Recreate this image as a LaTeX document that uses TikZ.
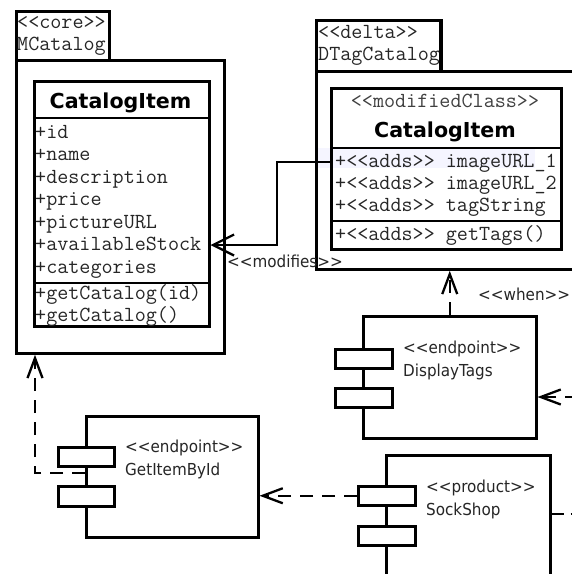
\documentclass[tikz,border=0pt]{standalone}
\usepackage{fontspec}
\setmainfont{DejaVu Sans}
\newfontfamily\sansf[FakeStretch=0.92]{DejaVu Sans}
\newfontfamily\titlef{DejaVu Sans}
\usetikzlibrary{arrows.meta}

\tikzset{
  pkgbox/.style={draw, line width=2.8pt, inner sep=0pt, anchor=north west, fill=white},
  clsbox/.style={draw, line width=2.5pt, inner sep=0pt, anchor=north west},
  compbox/.style={draw, line width=2.5pt, inner sep=0pt, anchor=north west, fill=white},
  portbox/.style={draw, line width=2.5pt, inner sep=0pt, anchor=north west, fill=white},
  divider/.style={line width=2.5pt},
  mono/.style={font=\ttfamily\fontsize{21.5}{22}\selectfont, inner sep=0pt, anchor=base west, text=black!85},
  title/.style={font=\titlef\bfseries\fontsize{20.6}{24}\selectfont, inner sep=0pt, anchor=base},
  lbl/.style={font=\sansf\fontsize{16.5}{19}\selectfont, inner sep=0pt, anchor=base west, text=black!85},
  conn/.style={line width=2.3pt},
  dconn/.style={line width=2.3pt, dash pattern=on 13pt off 9pt},
  opentip/.style={-{Straight Barb[length=20pt,width=15pt]}},
  bigtip/.style={-{Straight Barb[length=21pt,width=21pt]}},
}

\begin{document}
\begin{tikzpicture}[x=1pt,y=-1pt]
\useasboundingbox (0,0) rectangle (572,574);
\clip (0,0) rectangle (572,574);
\fill[white] (0,0) rectangle (572,574);

% ---------- package MCatalog ----------
\node[pkgbox, minimum width=93pt, minimum height=49pt] (mtab) at (15,10) {};
\node[pkgbox, minimum width=208pt, minimum height=293pt] (mpkg) at (15,59) {};
\node[mono] (mster) at (17,28) {<<core>>};
\node[mono] (mname) at (17,50) {MCatalog};

% class CatalogItem (core)
\node[clsbox, minimum width=175pt, minimum height=245pt] (mcls) at (33,80) {};
\draw[divider] (mcls.west |- 0,118) -- (mcls.east |- 0,118);
\draw[divider] (mcls.west |- 0,283) -- (mcls.east |- 0,283);
\node[title] (mtitle) at (120.5,108) {CatalogItem};
\node[mono] (ma1) at (35,138)   {+id};
\node[mono] (ma2) at (35,160.5) {+name};
\node[mono] (ma3) at (35,183)   {+description};
\node[mono] (ma4) at (35,205.5) {+price};
\node[mono] (ma5) at (35,228)   {+pictureURL};
\node[mono] (ma6) at (35,250.5) {+availableStock};
\node[mono] (ma7) at (35,273)   {+categories};
\node[mono] (mm1) at (35,299)   {+getCatalog(id)};
\node[mono] (mm2) at (35,321.5) {+getCatalog()};

% ---------- package DTagCatalog ----------
\node[pkgbox, minimum width=124pt, minimum height=51pt] (dtab) at (315,19) {};
\node[pkgbox, minimum width=305pt, minimum height=198pt] (dpkg) at (315,70) {};
\begin{scope}
  \clip (315,19) rectangle (438,70);
  \node[mono] (dster) at (318,38) {<<delta>>};
  \node[mono] (dname) at (318,60) {DTagCatalog};
\end{scope}
\draw[line width=2.8pt] (dtab.north east) -- (dtab.south east);

% class CatalogItem (modified)
\fill[blue!4] (318,148) rectangle (535,168);
\node[title, font=\ttfamily\fontsize{21.5}{22}\selectfont, text=black!75] (dster2) at (445,107) {<<modifiedClass>>};
\node[title] (dtitle) at (445,137) {CatalogItem};
\node[mono] (da1) at (335,167) {+<<adds>> imageURL\_1};
\node[mono] (da2) at (335,189) {+<<adds>> imageURL\_2};
\node[mono] (da3) at (335,211) {+<<adds>> tagString};
\node[mono] (dm1) at (335,240) {+<<adds>> getTags()};
\node[clsbox, minimum width=230pt, minimum height=161pt] (dcls) at (330,87) {};
\draw[divider] (dcls.west |- 0,148) -- (dcls.east |- 0,148);
\draw[divider] (dcls.west |- 0,221) -- (dcls.east |- 0,221);

% ---------- component DisplayTags ----------
\node[compbox, minimum width=173pt, minimum height=122pt] (dt) at (362,315) {};
\node[portbox, minimum width=57pt, minimum height=19pt] (dtp1) at (334,348) {};
\node[portbox, minimum width=57pt, minimum height=19pt] (dtp2) at (334,387) {};
\node[lbl] (dts) at (403,353) {<<endpoint>>};
\node[lbl] (dtn) at (403,376) {DisplayTags};

% ---------- component GetItemById ----------
\node[compbox, minimum width=172pt, minimum height=121pt] (gib) at (85,415) {};
\node[portbox, minimum width=56pt, minimum height=19pt] (gp1) at (57,446) {};
\node[portbox, minimum width=56pt, minimum height=20pt] (gp2) at (57,485) {};
\node[lbl] (gibs) at (125,452.5) {<<endpoint>>};
\node[lbl] (gibn) at (125,475) {GetItemById};

% ---------- component SockShop ----------
\node[compbox, minimum width=164pt, minimum height=166pt] (ss) at (385,454) {};
\node[portbox, minimum width=57pt, minimum height=19pt] (sp1) at (357,485) {};
\node[portbox, minimum width=57pt, minimum height=19pt] (sp2) at (357,525) {};
\node[lbl] (sss) at (426,492.5) {<<product>>};
\node[lbl] (ssn) at (426,515) {SockShop};

% ---------- connectors ----------
\draw[conn, bigtip] (dcls.west |- 0,162) -- (277,162) |- (mcls.east |- 0,245);
\node[lbl] (modlbl) at (227,267) {<<modifies>>};

\draw[dconn, opentip] (dt.north) -- (dt.north |- dpkg.south);
\node[lbl] (whenlbl) at (478,300) {<<when>>};

\coordinate (dtIn) at (600,397);
\draw[dconn, opentip] (dtIn) -- (dt.east |- dtIn);

\draw[dconn, opentip] (sp1.west) -- (gib.east |- sp1.west);

\coordinate (ssOut) at (600,514);
\draw[dconn, dash pattern=on 12pt off 7pt] (ss.east |- ssOut) -- (ssOut);

\draw[dconn, opentip] (gib.west |- 0,473) -| (mpkg.south -| 35,0);
\end{tikzpicture}
\end{document}
